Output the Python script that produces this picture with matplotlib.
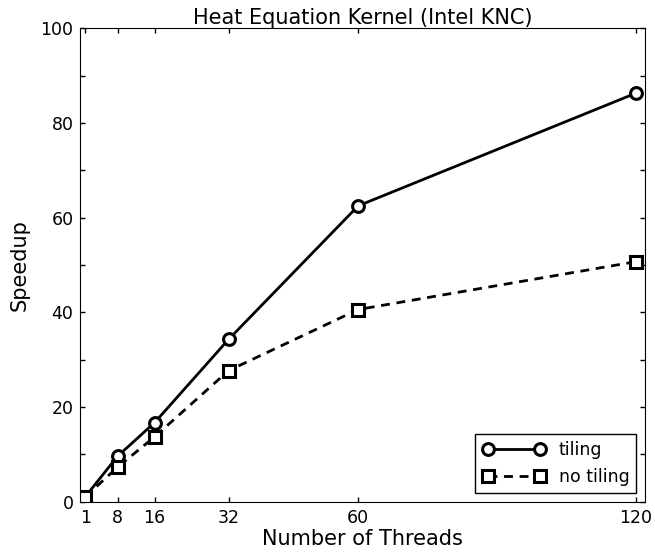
import matplotlib
matplotlib.use("Agg")
import matplotlib.pyplot as plt
from matplotlib.ticker import MultipleLocator

threads = [1, 8, 16, 32, 60, 120]
tiling = [1.0, 9.6, 16.7, 34.3, 62.5, 86.3]
no_tiling = [1.0, 7.3, 13.7, 27.7, 40.6, 50.7]

plt.rcParams['font.family'] = 'DejaVu Sans'
plt.rcParams['xtick.direction'] = 'in'
plt.rcParams['ytick.direction'] = 'in'

fig = plt.figure(figsize=(6.55, 5.55), dpi=100)
ax = fig.add_axes([0.1229, 0.096, 0.8621, 0.853])

ax.plot(threads, tiling, '-o', color='black', lw=2, ms=8.5, mew=2.2,
        mfc='white', mec='black', label='tiling')
ax.plot(threads, no_tiling, '--s', color='black', lw=2, ms=8.5, mew=2.2,
        mfc='white', mec='black', dashes=(3.2, 2.4), label='no tiling')

ax.set_xlim(0, 122)
ax.set_ylim(0, 100)
ax.set_xticks(threads)
ax.set_yticks(range(0, 101, 20))
ax.yaxis.set_minor_locator(MultipleLocator(10))
ax.tick_params(which='both', top=True, right=True, length=3.5, width=1,
               labelsize=12.5)
ax.tick_params(which='major', pad=5)

ax.set_title("Heat Equation Kernel (Intel KNC)", fontsize=15, pad=3)
ax.set_xlabel("Number of Threads", fontsize=15, labelpad=2)
ax.set_ylabel("Speedup", fontsize=15, labelpad=8)

leg = ax.legend(loc='lower right', numpoints=2, fontsize=12.5, fancybox=False,
                framealpha=1, edgecolor='black', borderaxespad=0.5,
                handlelength=3.6)
leg.get_frame().set_linewidth(1)

fig.savefig("out.png", dpi=100)
